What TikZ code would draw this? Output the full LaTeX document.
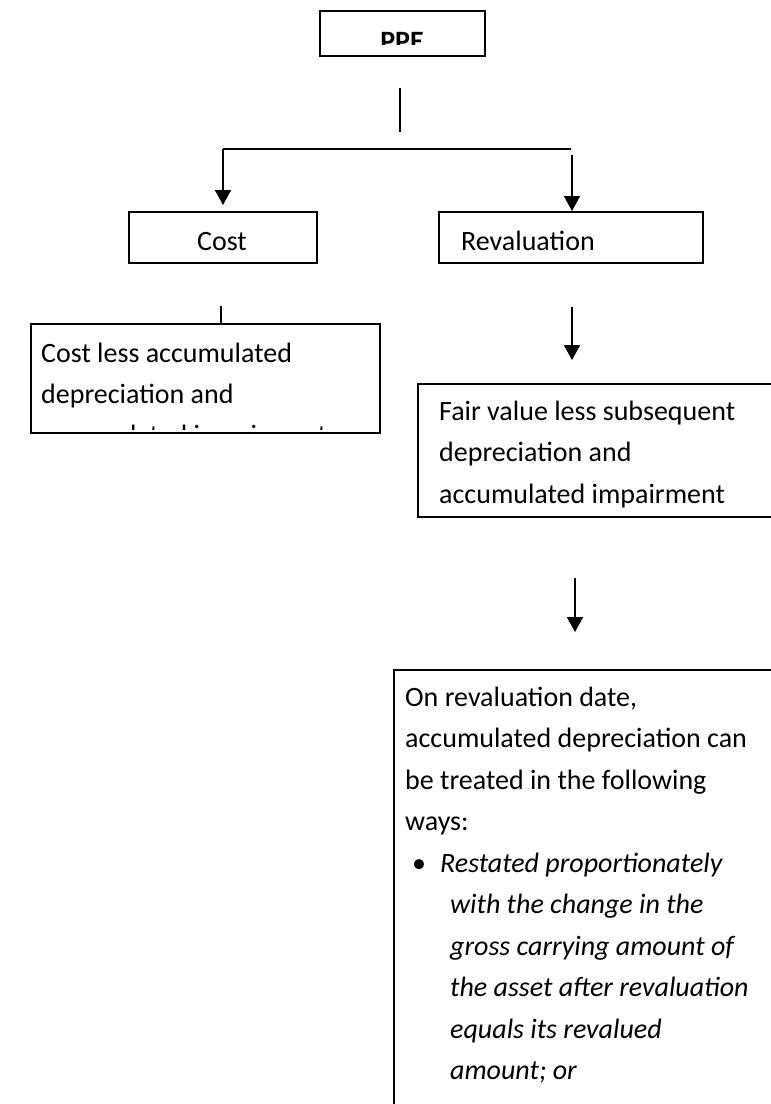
\documentclass[tikz,border=0pt]{standalone}
\usepackage{fontspec}
\setmainfont{Carlito}
\usetikzlibrary{arrows.meta}
\begin{document}
\begin{tikzpicture}[x=1pt,y=-1pt,
  box/.style={draw, line width=1.8pt, inner sep=0pt, anchor=north west},
  conn/.style={line width=1.2pt},
  arr/.style={line width=1.8pt, -{Triangle[width=16pt,length=15pt]}},
  txt/.style={anchor=base west, inner sep=0pt, font=\fontsize{28}{41}\selectfont},
  itxt/.style={txt, font=\fontsize{28}{41}\selectfont\itshape},
  ctxt/.style={anchor=base, inner sep=0pt, font=\fontsize{28}{41}\selectfont}]
\useasboundingbox (0,0) rectangle (771,1104);
\clip (0,0) rectangle (771,1104);
\fill[white] (0,0) rectangle (771,1104);

% top box
\node[box, minimum width=165pt, minimum height=45pt] (ppe) at (319,10) {};
\begin{scope}
  \clip (321,12) rectangle (482,44);
  \node[ctxt, font=\fontsize{28}{41}\selectfont\bfseries] (ppelbl) at (402,50) {PPE};
\end{scope}

% stem and branch line
\coordinate (stemtop) at (400,88);
\coordinate (stembot) at (400,132);
\draw[conn] (stemtop) -- (stembot);
\coordinate (brl) at (223,149);
\coordinate (brr) at (571,149);
\draw[conn] (brl) -- (brr);

% the two models
\node[box, minimum width=188pt, minimum height=51pt] (cost) at (128,211) {};
\node[ctxt] (costlbl) at (222,250) {Cost};
\node[box, minimum width=264pt, minimum height=51pt] (rev) at (438,211) {};
\node[txt] (revlbl) at (461,250) {Revaluation};
\coordinate (rstart) at (572,155);
\draw[arr] (brl) -- ([yshift=6pt]brl |- cost.north);
\draw[arr] (rstart) -- (rstart |- rev.north);

% cost model
\coordinate (cstem) at (221,306);
\node[box, minimum width=349pt, minimum height=109pt] (lbox) at (30,323) {};
\draw[arr, -] (cstem) -- (cstem |- lbox.north);
\begin{scope}
  \clip (30,323) rectangle (379,429);
  \node[txt] (l1) at (41,362) {Cost less accumulated};
  \node[txt] (l2) at (41,403) {depreciation and};
  \node[txt] (l3) at (41,444) {accumulated impairment};
\end{scope}

% revaluation model
\coordinate (a2s) at (572,307);
\coordinate (a2e) at (572,360);
\draw[arr] (a2s) -- (a2e);
\node[box, minimum width=400pt, minimum height=133pt] (rbox) at (417,383) {};
\node[txt] (r1) at (439,420) {Fair value less subsequent};
\node[txt] (r2) at (439,461.5) {depreciation and};
\node[txt] (r3) at (439,503) {accumulated impairment};

\coordinate (a3s) at (575,578);
\coordinate (a3e) at (575,632);
\draw[arr] (a3s) -- (a3e);

% treatment of accumulated depreciation
\node[box, minimum width=420pt, minimum height=500pt] (bbox) at (393,669) {};
\node[txt] (b1) at (405,706) {On revaluation date,};
\node[txt] (b2) at (405,747.5) {accumulated depreciation can};
\node[txt] (b3) at (405,789) {be treated in the following};
\node[txt] (b4) at (405,830.5) {ways:};
\node[txt] (bul) at (412,872) {•};
\node[itxt] (b5) at (440,872) {Restated proportionately};
\node[itxt] (b6) at (450,913.5) {with the change in the};
\node[itxt] (b7) at (450,955) {gross carrying amount of};
\node[itxt] (b8) at (450,996.5) {the asset after revaluation};
\node[itxt] (b9) at (450,1038) {equals its revalued};
\node[itxt] (b10) at (450,1079.5) {amount; or};
\end{tikzpicture}
\end{document}
